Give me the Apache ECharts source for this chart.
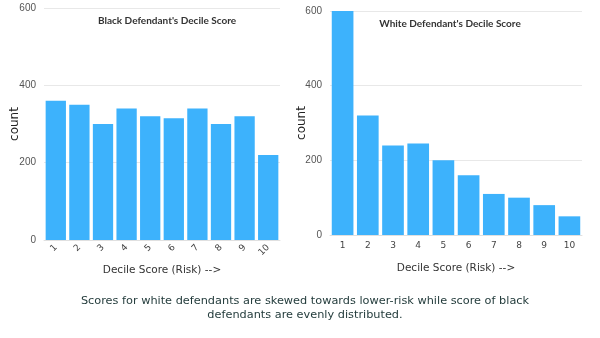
<!DOCTYPE html>
<html><head><meta charset="utf-8">
<script src="https://cdn.jsdelivr.net/npm/echarts@6/dist/echarts.min.js"></script>
<style>html,body{margin:0;padding:0;background:#fff}#c{width:600px;height:338px}</style>
</head><body><div id="c"></div>
<script>
const categories = ['1','2','3','4','5','6','7','8','9','10'];
const blackCounts = [360, 350, 300, 340, 320, 315, 340, 300, 320, 220];
const whiteCounts = [600, 320, 240, 245, 200, 160, 110, 100, 80, 50];
const yTicks = [0, 200, 400, 600];
const blackTitle = "Black Defendant's Decile Score";
const whiteTitle = "White Defendant's Decile Score";
const xName = 'Decile Score (Risk) -->';
const yName = 'count';
const caption = 'Scores for white defendants are skewed towards lower-risk while score of black\ndefendants are evenly distributed.';

const chart = echarts.init(document.getElementById('c'));
const barColor = '#3DB2FC';
const font = 'DejaVu Sans';
function yAxis(gi, gap){
  return {type:'value', gridIndex:gi, min:yTicks[0], max:yTicks[yTicks.length-1], interval:200,
    name:yName, nameLocation:'middle', nameGap:gap, nameRotate:90, nameMoveOverlap:false,
    nameTextStyle:{fontFamily:font, fontSize:12, color:'#222'},
    axisLabel:{fontFamily:'Liberation Sans', fontSize:10, color:'#555', margin:8},
    axisLine:{show:false}, axisTick:{show:false},
    splitLine:{lineStyle:{color:'#e8e8e8', width:1}}};
}
function xAxis(gi, rotate, gap){
  return {type:'category', gridIndex:gi, data:categories,
    name:xName, nameLocation:'middle', nameGap:gap, nameMoveOverlap:false,
    nameTextStyle:{fontFamily:font, fontSize:10.5, color:'#333'},
    axisLabel:{fontFamily:font, fontSize:9, color:'#444', rotate:rotate, margin:6, interval:0},
    axisLine:{lineStyle:{color:'#e0e0e0'}}, axisTick:{show:false}};
}
chart.setOption({
  animation:false,
  backgroundColor:'#fff',
  title:[
    {text:blackTitle, left:162, top:11, textAlign:'center', textStyle:{fontFamily:'Lato', fontWeight:'bold', fontSize:10, color:'#333'}},
    {text:whiteTitle, left:445, top:14, textAlign:'center', textStyle:{fontFamily:'Lato', fontWeight:'bold', fontSize:10, color:'#333'}},
    {text:caption, left:300, top:289, textAlign:'center', textStyle:{fontFamily:font, fontWeight:'normal', fontSize:11.3, lineHeight:14, color:'#1f3838'}}
  ],
  grid:[
    {left:44, width:236, top:8, height:232},
    {left:330, width:252, top:11, height:224}
  ],
  xAxis:[xAxis(0,45,25), xAxis(1,0,28)],
  yAxis:[yAxis(0,23), yAxis(1,22)],
  series:[
    {type:'bar', xAxisIndex:0, yAxisIndex:0, data:blackCounts, barCategoryGap:'14%', itemStyle:{color:barColor}},
    {type:'bar', xAxisIndex:1, yAxisIndex:1, data:whiteCounts, barCategoryGap:'14%', itemStyle:{color:barColor}}
  ]
});
</script></body></html>
